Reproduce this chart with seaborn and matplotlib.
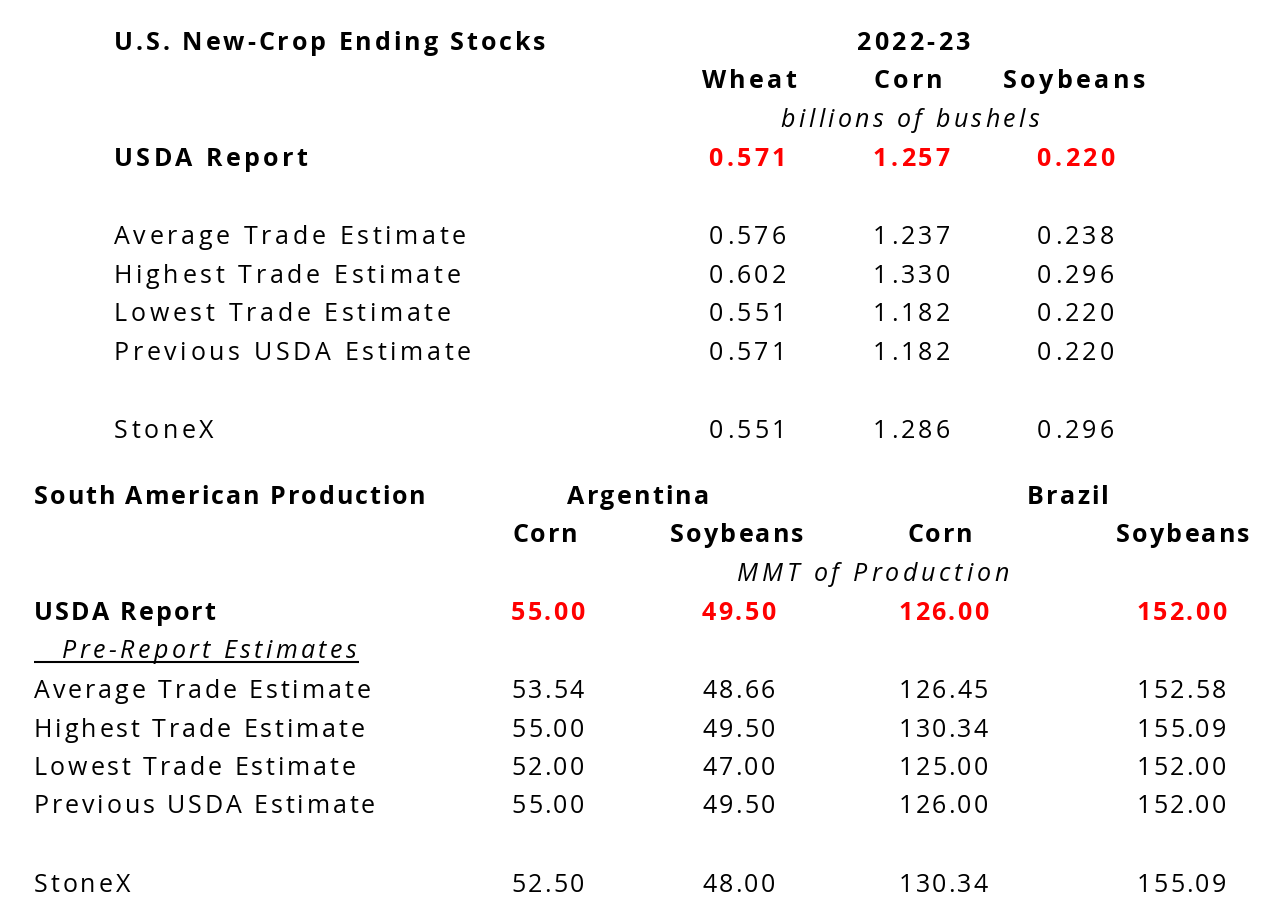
"""
Rebuild of the USDA ending stocks / South American production table
as a text-only figure.
"""

import matplotlib.pyplot as plt
import seaborn as sns
from matplotlib.font_manager import FontProperties, findfont, get_font

# --- data -------------------------------------------------------------
us_title = "U.S. New-Crop Ending Stocks"
us_year = "2022-23"
us_crops = ["Wheat", "Corn", "Soybeans"]
us_unit = "billions of bushels"
us_report = ["0.571", "1.257", "0.220"]
us_rows = ["Average Trade Estimate", "Highest Trade Estimate",
           "Lowest Trade Estimate", "Previous USDA Estimate", "StoneX"]
us_values = [
    ["0.576", "1.237", "0.238"],
    ["0.602", "1.330", "0.296"],
    ["0.551", "1.182", "0.220"],
    ["0.571", "1.182", "0.220"],
    ["0.551", "1.286", "0.296"],
]

sa_title = "South American Production"
sa_countries = ["Argentina", "Brazil"]
sa_crops = ["Corn", "Soybeans", "Corn", "Soybeans"]
sa_unit = "MMT of Production"
sa_report = ["55.00", "49.50", "126.00", "152.00"]
sa_subtitle = "Pre-Report Estimates"
sa_rows = ["Average Trade Estimate", "Highest Trade Estimate",
           "Lowest Trade Estimate", "Previous USDA Estimate", "StoneX"]
sa_values = [
    ["53.54", "48.66", "126.45", "152.58"],
    ["55.00", "49.50", "130.34", "155.09"],
    ["52.00", "47.00", "125.00", "152.00"],
    ["55.00", "49.50", "126.00", "152.00"],
    ["52.50", "48.00", "130.34", "155.09"],
]

# --- layout (pixel coordinates, y = baseline) -------------------------
DPI = 100
US_LABEL_X = 114
US_COL_CENTER = [749, 908, 1074]
US_COL_RIGHT = [786, 950, 1114]
US_ROW_Y = [244, 283, 321, 360, 438]

SA_LABEL_X = 34
SA_COUNTRY_X = [638, 1068]
SA_CROP_X = [545, 737, 940, 1183]
SA_COL_RIGHT = [584, 775, 988, 1226]
SA_ROW_Y = [698, 737, 775, 813, 892]

RED = "#ff0000"
FAMILY = "Open Sans"
SIZE = 18

sns.set_style("white")
plt.rcParams["font.family"] = [FAMILY, "DejaVu Sans"]

fig = plt.figure(figsize=(12.79, 9.04), dpi=DPI)
ax = fig.add_axes([0, 0, 1, 1])
ax.set_xlim(0, 1279)
ax.set_ylim(904, 0)
ax.axis("off")


def spaced_text(x, y, s, track=0.0, ha="left", weight="normal",
                style="normal", color="black", size=SIZE):
    """Draw text with extra letter spacing (Excel-like rendering)."""
    prop = FontProperties(family=FAMILY, weight=weight, style=style, size=size)
    font = get_font(findfont(prop))
    font.set_size(size, DPI)
    adv = [font.load_char(ord(ch)).linearHoriAdvance / 65536 for ch in s]
    total = sum(adv) + track * (len(s) - 1)
    if ha == "center":
        pen = x - total / 2
    elif ha == "right":
        pen = x - total
    else:
        pen = x
    for ch, a in zip(s, adv):
        if ch != " ":
            ax.text(pen, y, ch, ha="left", va="baseline",
                    fontproperties=prop, color=color)
        pen += a + track
    return pen


# upper table
T_HEAD, T_BODY, T_NUM, T_ITAL = 3.4, 3.65, 3.3, 3.4
spaced_text(US_LABEL_X, 50, us_title, 2.95, weight="bold")
spaced_text(913, 50, us_year, T_HEAD, ha="center", weight="bold")
for x, crop in zip(US_COL_CENTER, us_crops):
    spaced_text(x, 88, crop, T_HEAD, ha="center", weight="bold")
spaced_text(910, 127, us_unit, T_ITAL, ha="center", style="italic")

spaced_text(US_LABEL_X, 166, "USDA Report", T_HEAD, weight="bold")
for x, val in zip(US_COL_RIGHT, us_report):
    spaced_text(x, 166, val, T_NUM, ha="right", weight="bold", color=RED)

for y, label, vals in zip(US_ROW_Y, us_rows, us_values):
    spaced_text(US_LABEL_X, y, label, T_BODY)
    for x, val in zip(US_COL_RIGHT, vals):
        spaced_text(x, y, val, T_NUM, ha="right")

# lower table
B_HEAD, B_BODY, B_NUM, B_ITAL = 2.2, 2.9, 2.2, 3.8
spaced_text(SA_LABEL_X, 504, sa_title, 2.0, weight="bold")
for x, country in zip(SA_COUNTRY_X, sa_countries):
    spaced_text(x, 504, country, B_HEAD, ha="center", weight="bold")
for x, crop in zip(SA_CROP_X, sa_crops):
    spaced_text(x, 542, crop, B_HEAD, ha="center", weight="bold")
spaced_text(873, 581, sa_unit, B_ITAL, ha="center", style="italic")

spaced_text(SA_LABEL_X, 620, "USDA Report", B_HEAD, weight="bold")
for x, val in zip(SA_COL_RIGHT, sa_report):
    spaced_text(x, 620, val, B_NUM, ha="right", weight="bold", color=RED)

spaced_text(62, 658, sa_subtitle, B_ITAL - 0.4, style="italic")
ax.hlines(663, 34, 359, color="black", linewidth=1.5)

for y, label, vals in zip(SA_ROW_Y, sa_rows, sa_values):
    spaced_text(SA_LABEL_X, y, label, B_BODY)
    for x, val in zip(SA_COL_RIGHT, vals):
        spaced_text(x, y, val, B_NUM, ha="right")

fig.savefig("out.png", dpi=DPI)
